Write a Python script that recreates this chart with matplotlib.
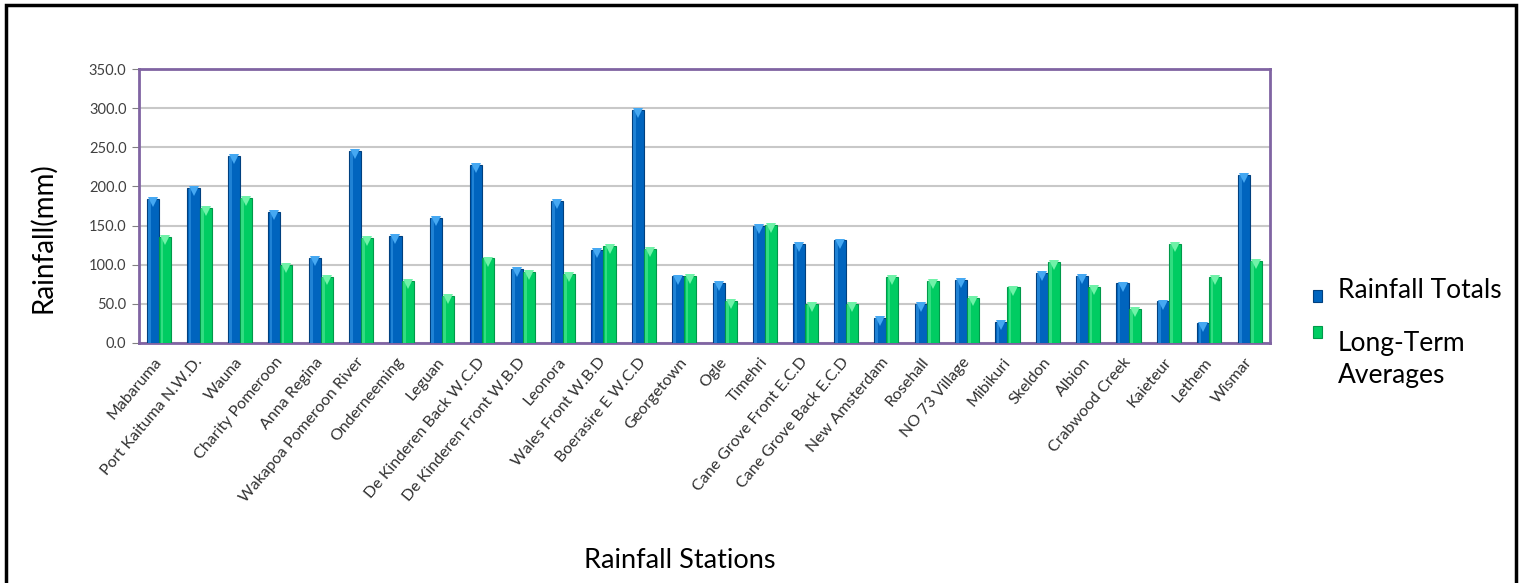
import numpy as np
import matplotlib.pyplot as plt
from matplotlib.patches import Rectangle

plt.rcParams['font.family'] = ['Lato', 'DejaVu Sans']

# Estaciones y valores de lluvia (mm)
stations = ["Mabaruma", "Port Kaituma N.W.D.", "Wauna", "Charity Pomeroon", "Anna Regina",
            "Wakapoa Pomeroon River", "Onderneeming", "Leguan", "De Kinderen Back W.C.D",
            "De Kinderen Front W.B.D", "Leonora", "Wales Front W.B.D", "Boerasire E W.C.D",
            "Georgetown", "Ogle", "Timehri", "Cane Grove Front E.C.D", "Cane Grove Back E.C.D",
            "New Amsterdam", "Rosehall", "NO 73 Village", "Mibikuri", "Skeldon", "Albion",
            "Crabwood Creek", "Kaieteur", "Lethem", "Wismar"]
rainfall_totals = [184, 198, 239, 167, 109, 245, 137, 160, 227, 95, 182, 119, 298, 85,
                   77, 149, 127, 131, 32, 50, 81, 27, 90, 86, 76, 53, 25, 215]
long_term_avg = [136, 173, 185, 100, 84, 134, 79, 60, 108, 91, 88, 124, 120, 86,
                 54, 151, 50, 50, 84, 79, 57, 71, 103, 72, 44, 126, 84, 105]
y_ticks = np.arange(0, 351, 50)
series_names = ["Rainfall Totals", "Long-Term\nAverages"]

fig = plt.figure(figsize=(15.24, 5.83), dpi=100)
ax = fig.add_axes([0.0912, 0.4117, 0.7421, 0.4699])

x = np.arange(len(stations))
w = 0.3

def draw_bars(xpos, vals, color, edge, light):
    ax.bar(xpos, vals, width=w, color=color, edgecolor=edge, linewidth=0.8, zorder=3)
    # brillo lateral para el efecto cilindrico
    ax.bar(xpos - w * 0.28, vals, width=w * 0.22, color=light, alpha=0.45,
           linewidth=0, zorder=4)
    ax.plot(xpos, np.array(vals) - 4, 'v', color=light, markersize=7,
            markeredgewidth=0, zorder=5)

draw_bars(x - w / 2, rainfall_totals, '#0064BE', '#00407F', '#45A8F2')
draw_bars(x + w / 2, long_term_avg, '#00CC62', '#00994A', '#6FF2A8')

ax.set_xlim(-0.5, len(stations) - 0.5)
ax.set_ylim(0, 350)
ax.set_yticks(y_ticks)
ax.set_yticklabels([f"{v:.1f}" for v in y_ticks], fontsize=10.5, color='#404040')
ax.set_xticks(x)
ax.set_xticklabels(stations, rotation=50, ha='right', va='center',
                   rotation_mode='anchor', fontsize=11.5, color='#303030')
ax.tick_params(axis='x', length=0, pad=12)
ax.tick_params(axis='y', length=5, color='#808080', pad=4)
ax.yaxis.grid(True, color='#C8C8C8', linewidth=1.5, zorder=0)
ax.set_axisbelow(True)
for s in ax.spines.values():
    s.set_color('#8064A2')
    s.set_linewidth(2)

fig.text(0.028, 0.592, "Rainfall(mm)", rotation=90, ha='center', va='center', fontsize=20)
fig.text(0.446, 0.039, "Rainfall Stations", ha='center', va='center', fontsize=19.5)

# Leyenda a mano: cuadrito de color + texto
W, H = fig.get_size_inches() * fig.dpi
def px(xp, yp):
    return xp / W, 1 - yp / H

for (ytop, color, edge), name, ytext in zip(
        [(290, '#0064BE', '#00407F'), (326, '#00CC62', '#00994A')],
        series_names, [290, 359]):
    x0, y0 = px(1313, ytop + 12)
    fig.add_artist(Rectangle((x0, y0), 9 / W, 12 / H, transform=fig.transFigure,
                             facecolor=color, edgecolor=edge, linewidth=0.8))
    tx, ty = px(1338, ytext)
    fig.text(tx, ty, name, ha='left', va='center', fontsize=19, linespacing=1.35)

# marco exterior
fig.add_artist(Rectangle((0.004, -0.01), 0.991, 1.001, transform=fig.transFigure,
                         fill=False, edgecolor='black', linewidth=2.5))

plt.savefig("out.png", dpi=100)
